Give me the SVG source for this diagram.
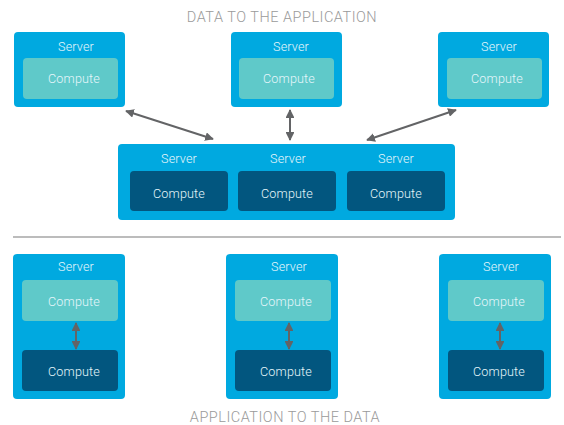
<svg xmlns="http://www.w3.org/2000/svg" width="564" height="425" viewBox="0 0 564 425">
<style>
.srv{fill:#00A9E0}
.lc{fill:#5FC9C9}
.dc{fill:#02567F}
.t{font-family:Roboto,"Liberation Sans",sans-serif;font-weight:300;font-size:12.6px;letter-spacing:0.15px;text-anchor:middle;fill:#E6F6FB}
.h{font-family:Roboto,"Liberation Sans",sans-serif;font-weight:300;font-size:14.5px;letter-spacing:0.5px;text-anchor:middle;fill:#9A9A9A}
.a{stroke:#636466;stroke-width:2;fill:none;marker-start:url(#ah);marker-end:url(#ah)}
</style>
<defs>
<marker id="ah" viewBox="0 0 10 10" refX="9" refY="5" markerWidth="4.4" markerHeight="4.4" orient="auto-start-reverse" markerUnits="strokeWidth">
<path d="M0,0 L10,5 L0,10 z" fill="#636466"/>
</marker>
</defs>
<text class="h" x="282" y="22">DATA TO THE APPLICATION</text>
<text class="h" x="285" y="421.5">APPLICATION TO THE DATA</text>
<line x1="13" y1="237" x2="561" y2="237" stroke="#A6A6A6" stroke-width="1.5"/>

<g id="top-server-1">
<rect class="srv" x="14" y="32" width="111" height="75" rx="4"/>
<text class="t" x="76" y="51">Server</text>
<rect class="lc" x="23" y="58" width="95" height="41" rx="4"/>
<text class="t" x="74" y="83">Compute</text>
</g>
<g id="top-server-2">
<rect class="srv" x="231" y="32" width="111" height="75" rx="4"/>
<text class="t" x="291" y="51">Server</text>
<rect class="lc" x="239" y="58" width="95" height="41" rx="4"/>
<text class="t" x="289" y="83">Compute</text>
</g>
<g id="top-server-3">
<rect class="srv" x="438" y="32" width="111" height="75" rx="4"/>
<text class="t" x="499" y="51">Server</text>
<rect class="lc" x="447" y="58" width="95" height="41" rx="4"/>
<text class="t" x="497" y="83">Compute</text>
</g>

<g id="mid-server">
<rect class="srv" x="118" y="144" width="337" height="76" rx="4"/>
<text class="t" x="179" y="163">Server</text>
<text class="t" x="288" y="163">Server</text>
<text class="t" x="396" y="163">Server</text>
<rect class="dc" x="130" y="171" width="98" height="40" rx="4"/>
<text class="t" x="179" y="198">Compute</text>
<rect class="dc" x="238" y="171" width="98" height="40" rx="4"/>
<text class="t" x="287" y="198">Compute</text>
<rect class="dc" x="347" y="171" width="98" height="40" rx="4"/>
<text class="t" x="396" y="198">Compute</text>
</g>

<g id="bottom-server-1">
<rect class="srv" x="13" y="254" width="112" height="145" rx="4"/>
<text class="t" x="76" y="271">Server</text>
<rect class="lc" x="22" y="280" width="96" height="41" rx="4"/>
<text class="t" x="74" y="306">Compute</text>
<rect class="dc" x="22" y="350" width="96" height="41" rx="4"/>
<text class="t" x="74" y="376">Compute</text>
</g>
<g id="bottom-server-2">
<rect class="srv" x="226" y="254" width="112" height="145" rx="4"/>
<text class="t" x="289" y="271">Server</text>
<rect class="lc" x="235" y="280" width="96" height="41" rx="4"/>
<text class="t" x="286" y="306">Compute</text>
<rect class="dc" x="235" y="350" width="96" height="41" rx="4"/>
<text class="t" x="286" y="376">Compute</text>
</g>
<g id="bottom-server-3">
<rect class="srv" x="439" y="254" width="112" height="145" rx="4"/>
<text class="t" x="501" y="271">Server</text>
<rect class="lc" x="448" y="280" width="96" height="41" rx="4"/>
<text class="t" x="499" y="306">Compute</text>
<rect class="dc" x="448" y="350" width="96" height="41" rx="4"/>
<text class="t" x="499" y="376">Compute</text>
</g>

<g id="connectors">
<line class="a" x1="126" y1="111" x2="213" y2="139"/>
<line class="a" x1="290" y1="110" x2="290" y2="140"/>
<line class="a" x1="456" y1="110" x2="367" y2="140"/>
<line class="a" x1="76" y1="323" x2="76" y2="349"/>
<line class="a" x1="289" y1="323" x2="289" y2="349"/>
<line class="a" x1="500" y1="323" x2="500" y2="349"/>
</g>
</svg>
